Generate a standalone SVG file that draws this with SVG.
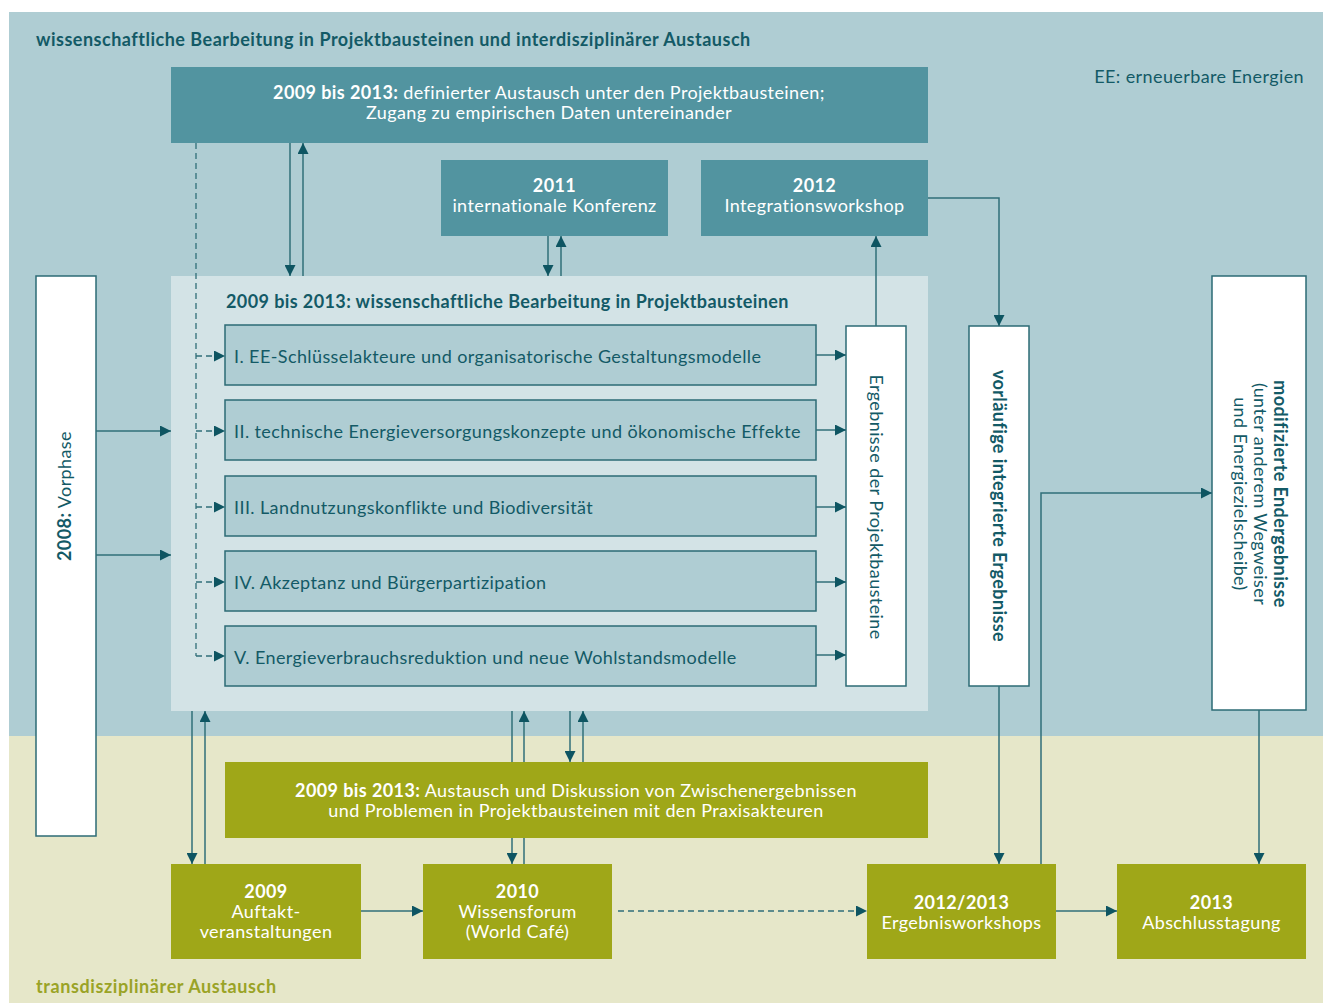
<svg xmlns="http://www.w3.org/2000/svg" width="1323" height="1003" viewBox="0 0 1323 1003">
<defs>
<style>
text{font-family:Lato,"Open Sans","Liberation Sans",sans-serif;letter-spacing:0.4px;}
.dk{fill:#135a66;font-size:18px;}
.b{font-weight:bold;}
.w{fill:#ffffff;font-size:18px;text-anchor:middle;}
.teal{fill:#5294a0;}
.grn{fill:#9fa718;}
.box{fill:#afcdd3;stroke:#2d6b75;stroke-width:1.5;}
.wb{fill:#ffffff;stroke:#2d6b75;stroke-width:1.5;}
.ln{fill:none;stroke:#306f79;stroke-width:1.5;}
.ds{fill:none;stroke:#306f79;stroke-width:1.3;stroke-dasharray:6 4;}
</style>
<marker id="ar" viewBox="0 0 10 10" refX="10" refY="5" markerWidth="11" markerHeight="11" markerUnits="userSpaceOnUse" orient="auto">
<path d="M0,0 L10,5 L0,10 z" fill="#0e5562"/>
</marker>
</defs>

<g id="background">
<rect x="9" y="12" width="1314" height="724" fill="#afcdd3"/>
<rect x="9" y="736" width="1314" height="267" fill="#e6e7c9"/>
<text x="36" y="46" class="dk b" style="font-size:18px;letter-spacing:0.5px">wissenschaftliche Bearbeitung in Projektbausteinen und interdisziplinärer Austausch</text>
<text x="1304" y="83" class="dk" style="text-anchor:end;font-size:18px">EE: erneuerbare Energien</text>
<text x="36" y="993" class="b" style="fill:#9aa326;font-size:18px;letter-spacing:0.6px">transdisziplinärer Austausch</text>
</g>

<g id="inner-area">
<rect x="171" y="276" width="757" height="435" fill="#d3e3e6"/>
<text x="226" y="308" class="dk b">2009 bis 2013: wissenschaftliche Bearbeitung in Projektbausteinen</text>
</g>

<g id="top-exchange">
<rect x="171" y="67" width="757" height="76" class="teal"/>
<text x="549" y="99" class="w"><tspan class="b">2009 bis 2013:</tspan> definierter Austausch unter den Projektbausteinen;</text>
<text x="549" y="119" class="w">Zugang zu empirischen Daten untereinander</text>
</g>

<g id="conference">
<rect x="441" y="160" width="227" height="76" class="teal"/>
<text x="554.5" y="192" class="w b">2011</text>
<text x="554.5" y="212" class="w">internationale Konferenz</text>
</g>

<g id="integration">
<rect x="701" y="160" width="227" height="76" class="teal"/>
<text x="814.5" y="192" class="w b">2012</text>
<text x="814.5" y="212" class="w">Integrationsworkshop</text>
</g>

<g id="vorphase">
<rect x="36" y="276" width="60" height="560" class="wb"/>
<text transform="translate(71,496) rotate(-90)" class="dk" style="text-anchor:middle"><tspan class="b">2008:</tspan> Vorphase</text>
</g>

<g id="pb1">
<rect x="225" y="325" width="591" height="60" class="box"/>
<text x="234" y="363" class="dk">I. EE-Schlüsselakteure und organisatorische Gestaltungsmodelle</text>
</g>
<g id="pb2">
<rect x="225" y="400" width="591" height="60" class="box"/>
<text x="234" y="438" class="dk">II. technische Energieversorgungskonzepte und ökonomische Effekte</text>
</g>
<g id="pb3">
<rect x="225" y="476" width="591" height="60" class="box"/>
<text x="234" y="514" class="dk">III. Landnutzungskonflikte und Biodiversität</text>
</g>
<g id="pb4">
<rect x="225" y="551" width="591" height="60" class="box"/>
<text x="234" y="589" class="dk">IV. Akzeptanz und Bürgerpartizipation</text>
</g>
<g id="pb5">
<rect x="225" y="626" width="591" height="60" class="box"/>
<text x="234" y="664" class="dk">V. Energieverbrauchsreduktion und neue Wohlstandsmodelle</text>
</g>

<g id="ergebnisse">
<rect x="846" y="326" width="60" height="360" class="wb"/>
<text transform="translate(870,507) rotate(90)" class="dk" style="text-anchor:middle">Ergebnisse der Projektbausteine</text>
</g>

<g id="vorlaeufige">
<rect x="969" y="326" width="60" height="360" class="wb"/>
<text transform="translate(993,506) rotate(90)" class="dk b" style="text-anchor:middle">vorläufige integrierte Ergebnisse</text>
</g>

<g id="modifizierte">
<rect x="1212" y="276" width="94" height="434" class="wb"/>
<text transform="translate(1274,494) rotate(90)" class="dk b" style="text-anchor:middle">modifizierte Endergebnisse</text>
<text transform="translate(1254,494) rotate(90)" class="dk" style="text-anchor:middle">(unter anderem Wegweiser</text>
<text transform="translate(1234,494) rotate(90)" class="dk" style="text-anchor:middle">und Energiezielscheibe)</text>
</g>

<g id="praxis-exchange">
<rect x="225" y="762" width="703" height="76" class="grn"/>
<text x="576" y="797" class="w"><tspan class="b">2009 bis 2013:</tspan> Austausch und Diskussion von Zwischenergebnissen</text>
<text x="576" y="817" class="w">und Problemen in Projektbausteinen mit den Praxisakteuren</text>
</g>

<g id="auftakt">
<rect x="171" y="864" width="190" height="95" class="grn"/>
<text x="266" y="898" class="w b">2009</text>
<text x="266" y="918" class="w">Auftakt-</text>
<text x="266" y="938" class="w">veranstaltungen</text>
</g>

<g id="wissensforum">
<rect x="423" y="864" width="189" height="95" class="grn"/>
<text x="517.5" y="898" class="w b">2010</text>
<text x="517.5" y="918" class="w">Wissensforum</text>
<text x="517.5" y="938" class="w">(World Café)</text>
</g>

<g id="ergebnisworkshops">
<rect x="867" y="864" width="189" height="95" class="grn"/>
<text x="961.5" y="909" class="w b">2012/2013</text>
<text x="961.5" y="929" class="w">Ergebnisworkshops</text>
</g>

<g id="abschlusstagung">
<rect x="1117" y="864" width="189" height="95" class="grn"/>
<text x="1211.5" y="909" class="w b">2013</text>
<text x="1211.5" y="929" class="w">Abschlusstagung</text>
</g>

<g id="connectors">
<path class="ln" d="M290,143 V276" marker-end="url(#ar)"/>
<path class="ln" d="M303,276 V143" marker-end="url(#ar)"/>
<path class="ln" d="M548,236 V276" marker-end="url(#ar)"/>
<path class="ln" d="M561,276 V236" marker-end="url(#ar)"/>
<path class="ln" d="M876,326 V236" marker-end="url(#ar)"/>
<path class="ln" d="M928,198 H999 V326" marker-end="url(#ar)"/>
<path class="ds" d="M196,143 V656"/>
<path class="ds" d="M196,356 H225" marker-end="url(#ar)"/>
<path class="ds" d="M196,431 H225" marker-end="url(#ar)"/>
<path class="ds" d="M196,507 H225" marker-end="url(#ar)"/>
<path class="ds" d="M196,582 H225" marker-end="url(#ar)"/>
<path class="ds" d="M196,656 H225" marker-end="url(#ar)"/>
<path class="ln" d="M96,431 H171" marker-end="url(#ar)"/>
<path class="ln" d="M96,555 H171" marker-end="url(#ar)"/>
<path class="ln" d="M816,355 H846" marker-end="url(#ar)"/>
<path class="ln" d="M816,430 H846" marker-end="url(#ar)"/>
<path class="ln" d="M816,507 H846" marker-end="url(#ar)"/>
<path class="ln" d="M816,582 H846" marker-end="url(#ar)"/>
<path class="ln" d="M816,655 H846" marker-end="url(#ar)"/>
<path class="ln" d="M192,711 V864" marker-end="url(#ar)"/>
<path class="ln" d="M205,864 V711" marker-end="url(#ar)"/>
<path class="ln" d="M512,711 V762"/>
<path class="ln" d="M512,838 V864" marker-end="url(#ar)"/>
<path class="ln" d="M524,838 V864"/>
<path class="ln" d="M524,762 V711" marker-end="url(#ar)"/>
<path class="ln" d="M570,711 V762" marker-end="url(#ar)"/>
<path class="ln" d="M583,762 V711" marker-end="url(#ar)"/>
<path class="ln" d="M361,911 H423" marker-end="url(#ar)"/>
<path class="ds" d="M618,911 H867" marker-end="url(#ar)"/>
<path class="ln" d="M999,686 V864" marker-end="url(#ar)"/>
<path class="ln" d="M1041,864 V493 H1212" marker-end="url(#ar)"/>
<path class="ln" d="M1259,710 V864" marker-end="url(#ar)"/>
<path class="ln" d="M1056,911 H1117" marker-end="url(#ar)"/>
</g>
</svg>
